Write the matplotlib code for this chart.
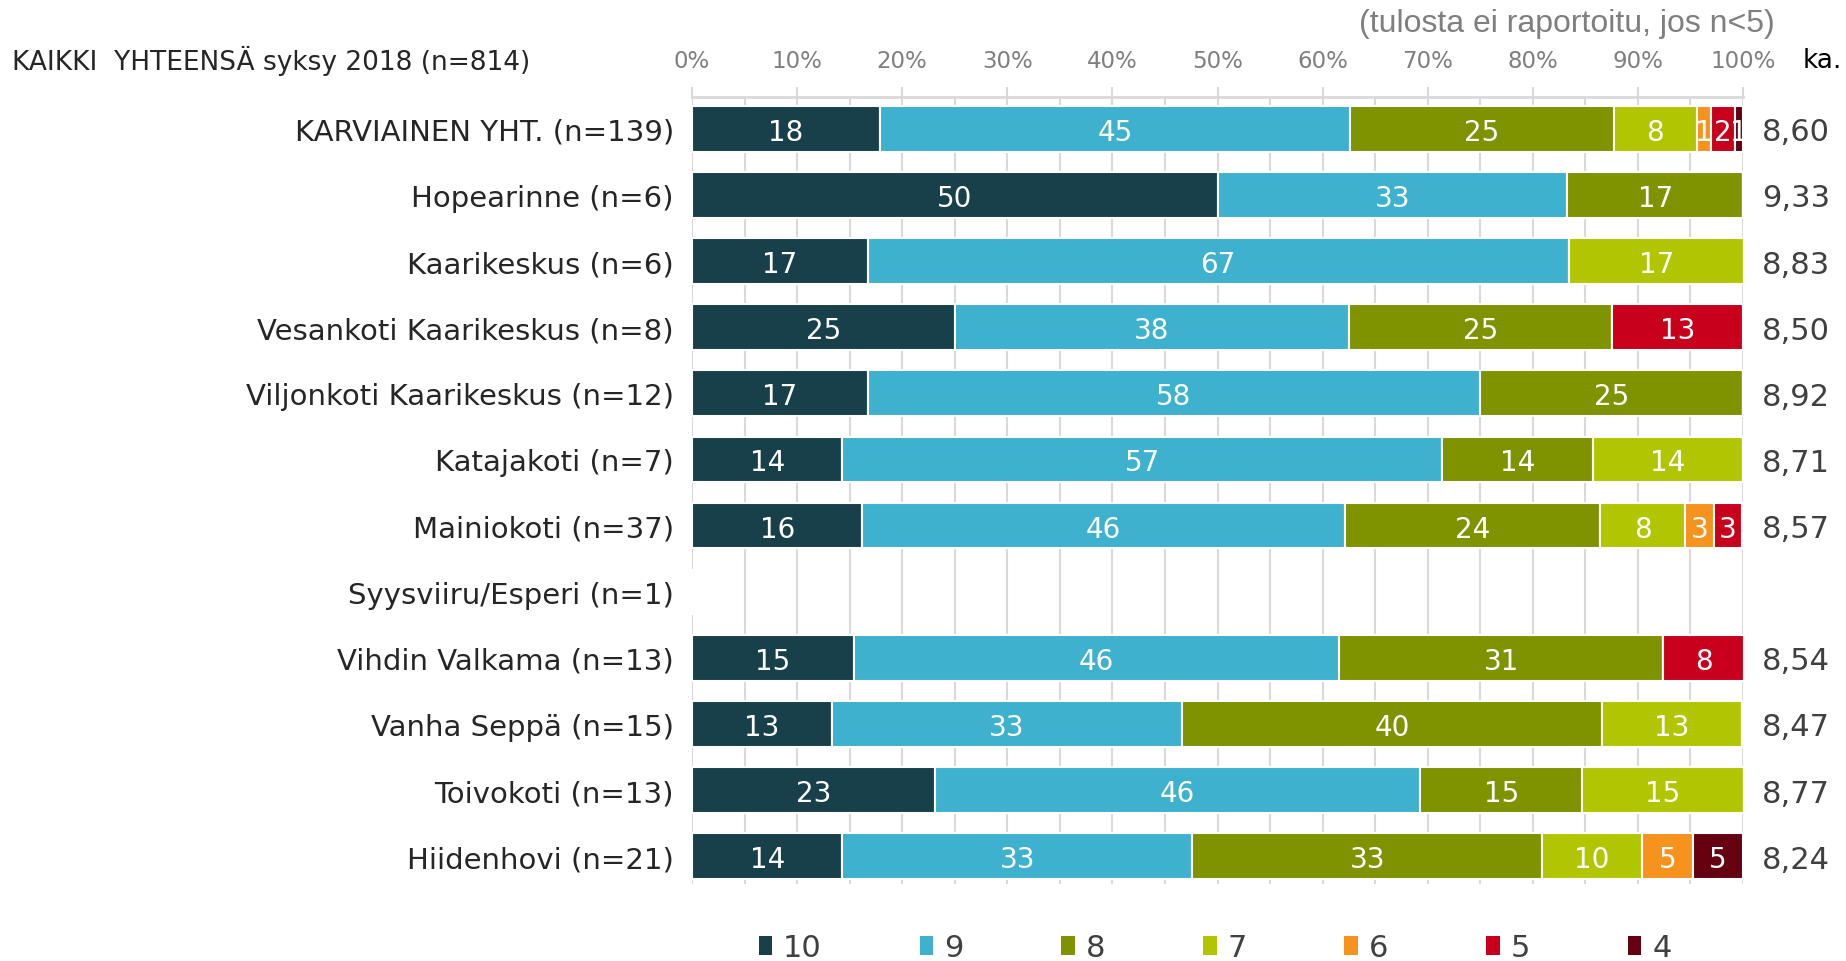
import numpy as np
import matplotlib.pyplot as plt
from matplotlib.patches import Patch
from matplotlib.ticker import FuncFormatter
from matplotlib.transforms import blended_transform_factory

categories = [
    "KARVIAINEN YHT. (n=139)", "Hopearinne (n=6)", "Kaarikeskus (n=6)",
    "Vesankoti Kaarikeskus (n=8)", "Viljonkoti Kaarikeskus (n=12)",
    "Katajakoti (n=7)", "Mainiokoti (n=37)", "Syysviiru/Esperi (n=1)",
    "Vihdin Valkama (n=13)", "Vanha Seppä (n=15)", "Toivokoti (n=13)",
    "Hiidenhovi (n=21)",
]
scores = ["10", "9", "8", "7", "6", "5", "4"]

# share of answers (%) per score, one list per score
share_10 = [17.9, 50.0, 16.7, 25.0, 16.7, 14.3, 16.2, 0, 15.4, 13.3, 23.1, 14.3]
share_9 = [44.7, 33.3, 66.7, 37.5, 58.3, 57.1, 45.9, 0, 46.2, 33.3, 46.2, 33.3]
share_8 = [25.1, 16.7, 0, 25.0, 25.0, 14.3, 24.3, 0, 30.8, 40.0, 15.4, 33.3]
share_7 = [7.9, 0, 16.7, 0, 0, 14.3, 8.1, 0, 0, 13.3, 15.4, 9.5]
share_6 = [1.4, 0, 0, 0, 0, 0, 2.7, 0, 0, 0, 0, 4.8]
share_5 = [2.2, 0, 0, 12.5, 0, 0, 2.7, 0, 7.7, 0, 0, 0]
share_4 = [0.8, 0, 0, 0, 0, 0, 0, 0, 0, 0, 0, 4.8]
averages = [8.60, 9.33, 8.83, 8.50, 8.92, 8.71, 8.57, None, 8.54, 8.47, 8.77, 8.24]

series = [share_10, share_9, share_8, share_7, share_6, share_5, share_4]
colors = ["#17404A", "#3DB1CD", "#7F9300", "#B1C500", "#F6921E", "#C8001C", "#640010"]

plt.rcParams['font.family'] = 'DejaVu Sans'
fig = plt.figure(figsize=(18.46, 9.62), dpi=100)
ax = fig.add_axes([692 / 1846, 77 / 962, 1051 / 1846, 787 / 962])

y = np.arange(len(categories))
left = np.zeros(len(categories))
for vals, col in zip(series, colors):
    vals = np.array(vals, dtype=float)
    bars = ax.barh(y, vals, left=left, height=0.69, color=col,
                   edgecolor='white', linewidth=1.5, zorder=3)
    for rect, v in zip(bars, vals):
        if v <= 0:
            continue
        t = ax.text(rect.get_x() + rect.get_width() / 2, rect.get_y() + rect.get_height() / 2,
                    str(int(v + 0.5)), ha='center', va='center_baseline', color='white',
                    fontsize=20, zorder=4)
        t.set_clip_path(rect)
    left += vals

ax.set_xlim(0, 100)
ax.set_ylim(len(categories) - 0.58, -0.48)
ax.xaxis.tick_top()
ax.set_xticks(np.arange(0, 101, 10))
ax.set_xticks(np.arange(0, 101, 5), minor=True)
ax.xaxis.set_major_formatter(FuncFormatter(lambda v, p: f"{int(v)}%"))
ax.tick_params(axis='x', which='major', colors='#d9d9d9', labelcolor='#7f7f7f',
               labelsize=16.5, length=7.2, width=1.5, pad=11)
ax.tick_params(axis='x', which='minor', length=0)
ax.grid(axis='x', which='both', color='#d9d9d9', linewidth=1.5, zorder=0)
ax.set_axisbelow(True)

ax.set_yticks(y)
ax.set_yticklabels(categories, fontsize=21, color='#262626')
ax.tick_params(axis='y', length=0, pad=13)

for s in ['left', 'right', 'bottom']:
    ax.spines[s].set_visible(False)
ax.spines['top'].set_color('#d9d9d9')
ax.spines['top'].set_linewidth(2)

trans = blended_transform_factory(ax.transAxes, ax.transData)
for yi, a in zip(y, averages):
    if a is None:
        continue
    ax.text(1.018, yi, f"{a:.2f}".replace('.', ','), transform=trans,
            ha='left', va='center_baseline', fontsize=22, color='#404040')

fig.text(1803 / 1846, 1 - 61 / 962, "ka.", ha='left', va='center', fontsize=19, color='black')
fig.text(12 / 1846, 1 - 61 / 962, "KAIKKI  YHTEENSÄ syksy 2018 (n=814)",
         ha='left', va='center', fontsize=19, color='#262626')
fig.text(1775 / 1846, 1 - 24 / 962, "(tulosta ei raportoitu, jos n<5)",
         ha='right', va='center', fontsize=23, color='#7f7f7f', family='Liberation Sans')

handles = [Patch(facecolor=c, edgecolor='none') for c in colors]
fig.legend(handles, scores, loc='center', bbox_to_anchor=(1215 / 1846, 13 / 962),
           ncol=7, frameon=False, fontsize=22, handlelength=0.45, handleheight=0.55,
           handletextpad=0.35, columnspacing=3.2, labelcolor='#404040')

fig.savefig("out.png", dpi=100)
